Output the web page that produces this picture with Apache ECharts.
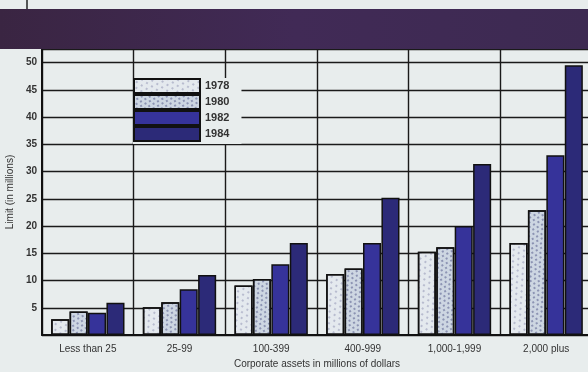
<!DOCTYPE html>
<html><head><meta charset="utf-8">
<script src="https://cdn.jsdelivr.net/npm/echarts@6/dist/echarts.min.js"></script>
<style>html,body{margin:0;padding:0;background:#e8eded}#c{width:588px;height:372px}</style>
</head><body><div id="c"></div>
<script>
const categories = ['Less than 25', '25-99', '100-399', '400-999', '1,000-1,999', '2,000 plus'];
const years = ['1978', '1980', '1982', '1984'];
const v1978 = [2.9, 5.1, 9.1, 11.2, 15.3, 16.9];
const v1980 = [4.3, 6.0, 10.3, 12.2, 16.1, 22.9];
const v1982 = [4.1, 8.4, 13.0, 16.9, 20.0, 33.0];
const v1984 = [5.9, 11.0, 16.9, 25.2, 31.4, 49.5];
const yTicks = [5, 10, 15, 20, 25, 30, 35, 40, 45, 50];

const speck = {symbol: 'circle', symbolSize: 0.8, color: 'rgba(45,50,110,0.55)', dashArrayX: [[2, 4], [0, 3, 2, 1]], dashArrayY: [2, 3], rotation: 0.6};
const speck2 = {symbol: 'circle', symbolSize: 0.9, color: 'rgba(45,50,110,0.6)', dashArrayX: [[2, 3], [0, 2, 2, 1]], dashArrayY: [2, 2], rotation: -0.5};
const styles = [
  {color: '#e4e9ee', borderColor: '#111', borderWidth: 1.5, decal: speck},
  {color: '#cdd6e2', borderColor: '#111', borderWidth: 1.5, decal: speck2},
  {color: '#36339a', borderColor: '#111', borderWidth: 1.5},
  {color: '#2c2a78', borderColor: '#111', borderWidth: 1.5}
];
const data = [v1978, v1980, v1982, v1984];

const chart = echarts.init(document.getElementById('c'), null, {renderer: 'canvas'});
chart.setOption({
  backgroundColor: '#e8eded',
  animation: false,
  aria: {enabled: true, decal: {show: false}, label: {enabled: false}},
  grid: {left: 42, top: 49, width: 550, height: 286, containLabel: false, outerBoundsMode: 'none'},
  legend: {
    orient: 'vertical', left: 133, top: 78, itemGap: 0, itemWidth: 66, itemHeight: 14,
    icon: 'rect', data: years, backgroundColor: '#e8eded', padding: [0, 12, 2, 0],
    textStyle: {fontFamily: 'Liberation Sans', fontSize: 11, lineHeight: 14, fontWeight: 'bold', color: '#333'}
  },
  xAxis: {
    type: 'category', data: categories,
    name: 'Corporate assets in millions of dollars', nameLocation: 'middle', nameGap: 21,
    nameTextStyle: {fontFamily: 'Liberation Sans', fontSize: 10, color: '#333'},
    axisLine: {lineStyle: {color: '#111', width: 2}},
    axisTick: {show: false},
    axisLabel: {fontFamily: 'Liberation Sans', fontSize: 10, color: '#333', margin: 9},
    splitLine: {show: true, lineStyle: {color: '#1a1a1a', width: 1.4}}
  },
  yAxis: {
    type: 'value', min: 0, max: 52.5, interval: 5,
    name: 'Limit (in millions)', nameLocation: 'middle', nameGap: 25, nameRotate: 90,
    nameTextStyle: {fontFamily: 'Liberation Sans', fontSize: 10, color: '#333'},
    axisLine: {show: true, lineStyle: {color: '#111', width: 2}},
    axisTick: {show: false},
    axisLabel: {fontFamily: 'Liberation Sans', fontSize: 10, fontWeight: 'bold', color: '#333', margin: 5,
      formatter: function (v) { return yTicks.indexOf(v) >= 0 ? String(v) : ''; }},
    splitLine: {show: true, lineStyle: {color: '#1a1a1a', width: 1.3}}
  },
  series: years.map(function (y, i) {
    return {name: y, type: 'bar', data: data[i], itemStyle: styles[i], barGap: '2%', barCategoryGap: '20%'};
  }),
  graphic: [
    {type: 'rect', z: 100, shape: {x: 0, y: 9, width: 588, height: 40},
      style: {fill: new echarts.graphic.LinearGradient(0, 0, 1, 0, [{offset: 0, color: '#3a2542'}, {offset: 0.5, color: '#412a56'}, {offset: 1, color: '#3d2a52'}])}},
    {type: 'line', z: 100, shape: {x1: 27, y1: 0, x2: 27, y2: 9}, style: {stroke: '#222', lineWidth: 1.5}}
  ]
});
</script></body></html>
